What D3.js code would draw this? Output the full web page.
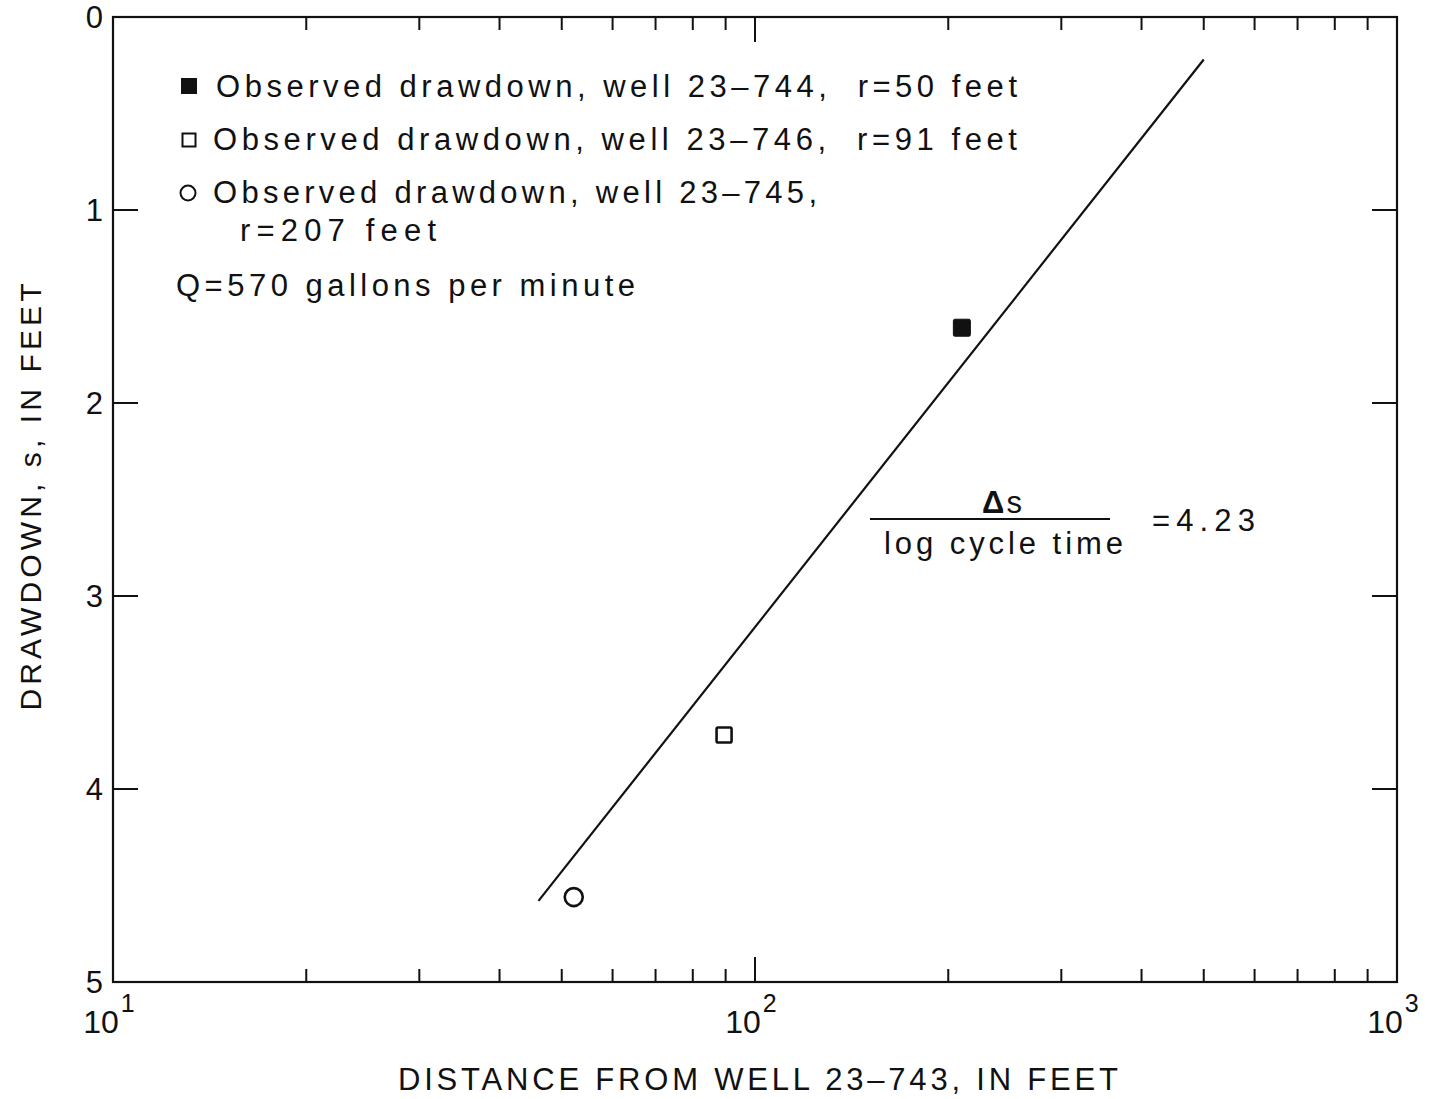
<!DOCTYPE html>
<html><head><meta charset="utf-8">
<script src="https://cdn.jsdelivr.net/npm/d3@7"></script>
<style>
html,body{margin:0;padding:0;background:#fff;}
text{font-family:"Liberation Sans",Arial,Helvetica,sans-serif;fill:#111;}
</style></head>
<body>
<svg id="chart" width="1434" height="1099"></svg>
<script>
// ---- data ----
const wellNames = ["23-744", "23-746", "23-745"];
const wellRadius = [50, 91, 207];
const symbolTypes = ["filledSquare", "openSquare", "circle"];
const plottedDistance = [210, 89.5, 52.2];   // feet (as plotted)
const plottedDrawdown = [1.61, 3.72, 4.56];  // feet
const fitDistance = [46, 500];
const fitDrawdown = [4.58, 0.22];
const yTickValues = [0, 1, 2, 3, 4, 5];
const xDecades = [10, 100, 1000];
const xDecadeExp = ["1", "2", "3"];
const xMinorTicks = [20,30,40,50,60,70,80,90,200,300,400,500,600,700,800,900];
const legendLines = [
  "Observed drawdown, well 23\u2013744,\u00a0\u00a0r=50 feet",
  "Observed drawdown, well 23\u2013746,\u00a0\u00a0r=91 feet",
  "Observed drawdown, well 23\u2013745,",
  "r=207 feet",
  "Q=570 gallons per minute"
];

const svg = d3.select("#chart");
const L = 113, R = 1397, T = 17, B = 982;
const x = d3.scaleLog().domain([10, 1000]).range([L, R]);
const y = d3.scaleLinear().domain([0, 5]).range([T, B]);
const ink = "#111";

// frame
svg.append("rect").attr("x", L).attr("y", T).attr("width", R - L).attr("height", B - T)
  .attr("fill", "none").attr("stroke", ink).attr("stroke-width", 2.2);

// x ticks (bottom & top, inward)
const g = svg.append("g").attr("stroke", ink).attr("stroke-width", 2);
xMinorTicks.forEach(v => {
  g.append("line").attr("x1", x(v)).attr("x2", x(v)).attr("y1", B).attr("y2", B - 13);
  g.append("line").attr("x1", x(v)).attr("x2", x(v)).attr("y1", T).attr("y2", T + 13);
});
g.append("line").attr("x1", x(100)).attr("x2", x(100)).attr("y1", B).attr("y2", B - 25);
g.append("line").attr("x1", x(100)).attr("x2", x(100)).attr("y1", T).attr("y2", T + 25);
// y ticks (left & right, inward)
yTickValues.filter(v => v > 0 && v < 5).forEach(v => {
  g.append("line").attr("x1", L).attr("x2", L + 25).attr("y1", y(v)).attr("y2", y(v));
  g.append("line").attr("x1", R).attr("x2", R - 25).attr("y1", y(v)).attr("y2", y(v));
});

// y tick labels
svg.selectAll(".ylab").data(yTickValues).enter().append("text")
  .attr("x", L - 10).attr("y", d => y(d) + 11)
  .attr("text-anchor", "end").attr("font-size", 31).text(d => d);

// x tick labels 10^n
xDecades.forEach((v, i) => {
  const t = svg.append("text").attr("x", x(v) - 4).attr("y", 1033)
    .attr("text-anchor", "middle").attr("font-size", 32);
  t.append("tspan").text("10");
  t.append("tspan").attr("dx", 2).attr("dy", -21).attr("font-size", 25).text(xDecadeExp[i]);
});

// axis titles
svg.append("text").attr("x", 758).attr("y", 1090).attr("text-anchor", "middle")
  .attr("font-size", 31).attr("textLength", 720).attr("lengthAdjust", "spacing")
  .text("DISTANCE FROM WELL 23\u2013743, IN FEET");
svg.append("text").attr("transform", "translate(41,497) rotate(-90)")
  .attr("text-anchor", "middle").attr("font-size", 30)
  .attr("textLength", 427).attr("lengthAdjust", "spacing")
  .text("DRAWDOWN, s, IN FEET");

// fitted line
svg.append("path")
  .datum(fitDistance.map((d, i) => [d, fitDrawdown[i]]))
  .attr("d", d3.line().x(d => x(d[0])).y(d => y(d[1])))
  .attr("stroke", ink).attr("stroke-width", 2.2).attr("fill", "none");

// data points
function drawSymbol(sel, type, cx, cy, s) {
  if (type === "circle") {
    sel.append("circle").attr("cx", cx).attr("cy", cy).attr("r", s / 2)
      .attr("fill", "none").attr("stroke", ink).attr("stroke-width", 2.6);
  } else {
    sel.append("rect").attr("x", cx - s / 2).attr("y", cy - s / 2)
      .attr("width", s).attr("height", s).attr("rx", 1.5)
      .attr("fill", type === "filledSquare" ? ink : "none")
      .attr("stroke", ink).attr("stroke-width", type === "filledSquare" ? 1 : 2.6);
  }
}
const pointSize = [17, 15, 18];
plottedDistance.forEach((d, i) => {
  drawSymbol(svg, symbolTypes[i], x(d), y(plottedDrawdown[i]), pointSize[i]);
});

// legend
const legRows = [97, 150, 203, 241, 296];
const legX = [216, 213, 213, 240, 176];
const legW = [801, 804, 604, 196, 459];
legendLines.forEach((s, i) => {
  svg.append("text").attr("x", legX[i]).attr("y", legRows[i]).attr("font-size", 31)
    .attr("textLength", legW[i]).attr("lengthAdjust", "spacing").text(s);
});
const legSym = [[189, 86, 14], [189, 140, 13], [188, 193, 13]];
symbolTypes.forEach((t, i) => {
  const [cx, cy, s] = legSym[i];
  if (t === "circle") {
    svg.append("circle").attr("cx", cx).attr("cy", cy).attr("r", 7.5)
      .attr("fill", "none").attr("stroke", ink).attr("stroke-width", 2);
  } else {
    svg.append("rect").attr("x", cx - s / 2).attr("y", cy - s / 2).attr("width", s).attr("height", s)
      .attr("fill", t === "filledSquare" ? ink : "none").attr("stroke", ink).attr("stroke-width", 2);
  }
});

// slope annotation
svg.append("line").attr("x1", 870).attr("x2", 1110).attr("y1", 519).attr("y2", 519)
  .attr("stroke", ink).attr("stroke-width", 2);
const ds = svg.append("text").attr("x", 1003).attr("y", 513).attr("text-anchor", "middle")
  .attr("font-size", 31).attr("letter-spacing", 2);
ds.append("tspan").attr("font-weight", "bold").text("Δ");
ds.append("tspan").text("s");
svg.append("text").attr("x", 884).attr("y", 554).attr("font-size", 31)
  .attr("textLength", 239).attr("lengthAdjust", "spacing").text("log cycle time");
svg.append("text").attr("x", 1152).attr("y", 531).attr("font-size", 31)
  .attr("textLength", 103).attr("lengthAdjust", "spacing").text("=4.23");
</script>
</body></html>
